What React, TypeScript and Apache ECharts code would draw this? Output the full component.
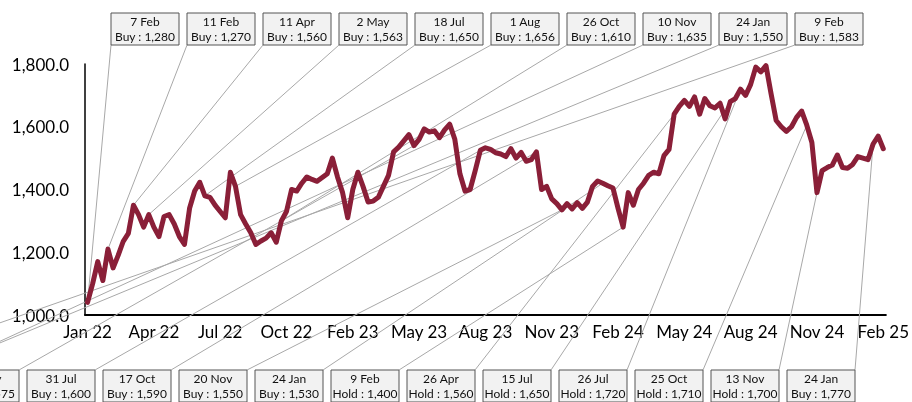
import React, { useEffect, useRef } from "react";
import * as echarts from "echarts";

const STEP = 13;
const tickLabels = [
  "Jan 22", "Apr 22", "Jul 22", "Oct 22", "Feb 23", "May 23", "Aug 23",
  "Nov 23", "Feb 24", "May 24", "Aug 24", "Nov 24", "Feb 25",
];

const prices = [
  1040, 1100, 1170, 1110, 1210, 1150, 1190, 1235, 1260, 1350,
  1320, 1280, 1320, 1280, 1250, 1314, 1320, 1290, 1250, 1225,
  1340, 1395, 1423, 1380, 1375, 1350, 1330, 1310, 1455, 1410,
  1320, 1290, 1262, 1225, 1236, 1245, 1262, 1232, 1300, 1330,
  1400, 1395, 1420, 1440, 1432, 1426, 1438, 1450, 1500, 1440,
  1390, 1310, 1400, 1455, 1410, 1360, 1363, 1375, 1410, 1445,
  1520, 1535, 1555, 1575, 1540, 1560, 1593, 1583, 1587, 1565,
  1590, 1608, 1560, 1450, 1395, 1400, 1460, 1525, 1533, 1528,
  1517, 1513, 1505, 1530, 1500, 1518, 1490, 1495, 1520, 1400,
  1410, 1370, 1355, 1335, 1355, 1338, 1358, 1340, 1360, 1410,
  1427, 1420, 1412, 1405, 1340, 1280, 1390, 1350, 1400, 1420,
  1445, 1455, 1450, 1508, 1528, 1640, 1665, 1684, 1665, 1695,
  1640, 1690, 1667, 1660, 1675, 1625, 1680, 1690, 1720, 1700,
  1735, 1790, 1775, 1795, 1705, 1620, 1600, 1585, 1600, 1630,
  1650, 1605, 1550, 1390, 1460, 1470, 1478, 1510, 1470, 1468,
  1480, 1505, 1500, 1495, 1545, 1570, 1530,
];

const categories = prices.map((_, i) => String(i));

// annotations: date, recommendation, target price, index of the annotated point
const topDates = ["7 Feb", "11 Feb", "11 Apr", "2 May", "18 Jul", "1 Aug", "26 Oct", "10 Nov", "24 Jan", "9 Feb"];
const topCalls = ["Buy", "Buy", "Buy", "Buy", "Buy", "Buy", "Buy", "Buy", "Buy", "Buy"];
const topTargets = [1280, 1270, 1560, 1563, 1650, 1656, 1610, 1635, 1550, 1583];
const topAt = [0, 4, 9, 12, 23, 29, 38, -20, -20, -20];
// the last three point to places left of the visible range (value there)
const topAtValue = [null, null, null, null, null, null, null, 895, 892, 959];

const bottomDates = ["5 May", "31 Jul", "17 Oct", "20 Nov", "24 Jan", "9 Feb", "26 Apr", "15 Jul", "26 Jul", "25 Oct", "13 Nov", "24 Jan"];
const bottomCalls = ["Buy", "Buy", "Buy", "Buy", "Buy", "Hold", "Hold", "Hold", "Hold", "Hold", "Hold", "Buy"];
const bottomTargets = [1575, 1600, 1590, 1550, 1530, 1400, 1560, 1650, 1720, 1710, 1700, 1770];
const bottomAt = [64, 77, 88, 93, 101, 105, 115, 126, 128, 141, 143, 154];

const FONT = "Lato, 'Open Sans', sans-serif";
const fmt = (v: number) => v.toLocaleString("en-US");

export default function App() {
  const ref = useRef<HTMLDivElement>(null);
  useEffect(() => {
    const chart = echarts.init(ref.current!, null, { renderer: "svg" });
    chart.setOption({
      animation: false,
      grid: { left: 85, right: 21, top: 64, bottom: 87, containLabel: false },
      xAxis: {
        type: "category",
        data: categories,
        boundaryGap: true,
        axisLine: { lineStyle: { color: "#000", width: 2 } },
        axisTick: { show: false },
        axisLabel: {
          interval: (i: number) => i % STEP === 0,
          formatter: (_v: string, i: number) => tickLabels[i / STEP] ?? "",
          color: "#000",
          fontSize: 17,
          fontFamily: FONT,
          margin: 8,
        },
        splitLine: { show: false },
      },
      yAxis: {
        type: "value",
        min: 1000,
        max: 1800,
        interval: 200,
        axisLine: { show: true, lineStyle: { color: "#000", width: 1.5 } },
        axisTick: { show: false },
        splitLine: { show: false },
        axisLabel: {
          color: "#000",
          fontSize: 17,
          fontFamily: FONT,
          margin: 16,
          formatter: (v: number) =>
            v.toLocaleString("en-US", { minimumFractionDigits: 1, maximumFractionDigits: 1 }),
        },
      },
      series: [
        {
          type: "line",
          data: prices,
          symbol: "none",
          lineStyle: { color: "#8a1f38", width: 5, cap: "round", join: "round" },
          z: 3,
        },
      ],
    });

    const g: any[] = [];
    const W = 68, H = 32;
    const addBox = (x: number, y: number, d: string, call: string, t: number) => {
      g.push({
        type: "rect",
        shape: { x, y, width: W, height: H },
        style: { fill: "#f2f2f2", stroke: "#555", lineWidth: 1 },
        z: 20,
      });
      g.push({
        type: "text",
        x: x + W / 2,
        y: y + H / 2,
        style: {
          text: d + "\n" + call + " : " + fmt(t),
          align: "center",
          verticalAlign: "middle",
          fontSize: 12,
          lineHeight: 15,
          fontFamily: FONT,
          fill: "#111",
        },
        z: 21,
      });
    };
    const addLine = (x1: number, y1: number, idx: number, val: number) => {
      const p = chart.convertToPixel({ seriesIndex: 0 }, [idx, val]) as number[];
      g.push({
        type: "line",
        shape: { x1, y1, x2: p[0], y2: p[1] },
        style: { stroke: "#a8a8a8", lineWidth: 1 },
        z: 1,
      });
    };
    topDates.forEach((d, k) => {
      const x = 111 + 76 * k, y = 13;
      const v = topAtValue[k] ?? prices[topAt[k]];
      addLine(x, y + H, topAt[k], v);
      addBox(x, y, d, topCalls[k], topTargets[k]);
    });
    bottomDates.forEach((d, k) => {
      const x = -49 + 76 * k, y = 370;
      addLine(x + W, y, bottomAt[k], prices[bottomAt[k]]);
      addBox(x, y, d, bottomCalls[k], bottomTargets[k]);
    });
    chart.setOption({ graphic: g });
    return () => chart.dispose();
  }, []);
  return (
    <div
      ref={ref}
      style={{ position: "fixed", left: 0, top: 0, width: 912, height: 402 }}
    />
  );
}
